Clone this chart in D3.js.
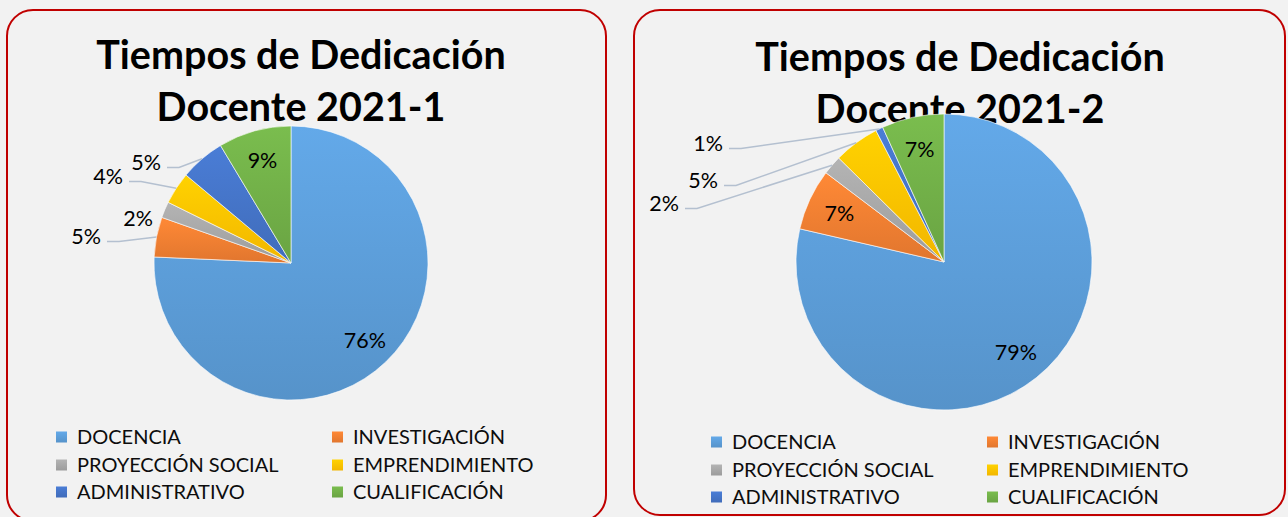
<!DOCTYPE html>
<html>
<head>
<meta charset="utf-8">
<script src="https://cdn.jsdelivr.net/npm/d3@7"></script>
<style>
  html, body { margin: 0; padding: 0; background: #f2f2f2; }
  svg { display: block; font-family: Lato, "Open Sans", sans-serif; }
</style>
</head>
<body>
<svg id="chart" width="1288" height="517"></svg>
<script>
// data
var categories = ["DOCENCIA", "INVESTIGACIÓN", "PROYECCIÓN SOCIAL", "EMPRENDIMIENTO", "ADMINISTRATIVO", "CUALIFICACIÓN"]
var colors = ["#5B9BD5", "#ED7D31", "#A5A5A5", "#FFC000", "#4472C4", "#70AD47"]
var values_2021_1 = [75.7, 4.7, 1.9, 3.8, 5.3, 8.6]
var values_2021_2 = [78.6, 6.7, 2.1, 5.0, 0.8, 6.8]
var titles = [["Tiempos de Dedicación", "Docente 2021-1"], ["Tiempos de Dedicación", "Docente 2021-2"]]

// layout of each panel (positions only)
var panels = [
  {values: values_2021_1, title: titles[0], box: [7, 10, 599, 511], cx: 291, cy: 263, r: 137,
   titleX: 301, titleY: [69, 121], legX: [56, 332], legY: [437, 465, 492],
   outside: {1: [101, 236], 2: [153, 218], 3: [123, 176], 4: [161, 162]}},
  {values: values_2021_2, title: titles[1], box: [634, 10, 651, 505], cx: 944, cy: 262, r: 148,
   titleX: 960, titleY: [71, 123], legX: [711, 987], legY: [442, 470, 497],
   outside: {2: [679, 203], 3: [718, 180], 4: [723, 143]}}
]

var svg = d3.select("#chart")
var defs = svg.append("defs")

// gradient fills like the office chart style
colors.forEach(function(c, i) {
  var g = defs.append("linearGradient").attr("id", "grad" + i)
    .attr("x1", 0).attr("y1", 0).attr("x2", 0).attr("y2", 1)
  g.append("stop").attr("offset", "0%").attr("stop-color", d3.color(c).brighter(0.25))
  g.append("stop").attr("offset", "100%").attr("stop-color", d3.color(c).darker(0.15))
})

var pie = d3.pie().sort(null).value(function(d) { return d })

panels.forEach(function(p) {
  var b = p.box
  svg.append("rect")
    .attr("x", b[0]).attr("y", b[1]).attr("width", b[2]).attr("height", b[3])
    .attr("rx", 26).attr("ry", 26)
    .attr("fill", "#f2f2f2").attr("stroke", "#c00000").attr("stroke-width", 2)

  // title
  p.title.forEach(function(t, i) {
    svg.append("text")
      .attr("x", p.titleX).attr("y", p.titleY[i])
      .attr("text-anchor", "middle")
      .style("font-size", "39.5px").style("font-weight", "bold").style("fill", "#000")
      .text(t)
  })

  var g = svg.append("g").attr("transform", "translate(" + p.cx + "," + p.cy + ")")
  var arcs = pie(p.values)
  var arc = d3.arc().innerRadius(0).outerRadius(p.r)
  var labelArc = d3.arc().innerRadius(p.r * 0.78).outerRadius(p.r * 0.78)
  var edgeArc = d3.arc().innerRadius(p.r).outerRadius(p.r)

  g.selectAll("path.slice")
    .data(arcs)
    .enter()
    .append("path")
    .attr("class", "slice")
    .attr("d", arc)
    .attr("fill", function(d, i) { return "url(#grad" + i + ")" })
    .attr("stroke", "#ffffff").attr("stroke-width", 0.6)

  arcs.forEach(function(d, i) {
    var txt = Math.round(d.data) + "%"
    if (p.outside[i]) {
      var o = p.outside[i]
      var lx = o[0] - p.cx, ly = o[1] - p.cy
      var end = edgeArc.centroid(d)
      var sx = lx + 6, sy = ly + 5.5
      if (Math.hypot(end[0] - sx, end[1] - sy) > 25) {
        g.append("polyline")
          .attr("points", [[sx, sy], [sx + 12, sy], end].map(function(q) { return q.join(",") }).join(" "))
          .attr("fill", "none").attr("stroke", "#b4c0d0").attr("stroke-width", 1.5)
      }
      g.append("text")
        .attr("x", lx).attr("y", ly).attr("dy", "0.35em")
        .attr("text-anchor", "end")
        .style("font-size", "21.5px").style("fill", "#000")
        .text(txt)
    } else {
      var c = labelArc.centroid(d)
      g.append("text")
        .attr("x", c[0]).attr("y", c[1]).attr("dy", "0.35em")
        .attr("text-anchor", "middle")
        .style("font-size", "21.5px").style("fill", "#000")
        .text(txt)
    }
  })

  // legend, two columns
  var leg = svg.append("g")
  categories.forEach(function(name, i) {
    var x = p.legX[i % 2], y = p.legY[Math.floor(i / 2)]
    leg.append("rect")
      .attr("x", x).attr("y", y - 5.5).attr("width", 11).attr("height", 11)
      .attr("fill", "url(#grad" + i + ")")
    leg.append("text")
      .attr("x", x + 21).attr("y", y).attr("dy", "0.35em")
      .style("font-size", "20px").style("fill", "#0d0d0d")
      .text(name)
  })
})
</script>
</body>
</html>
